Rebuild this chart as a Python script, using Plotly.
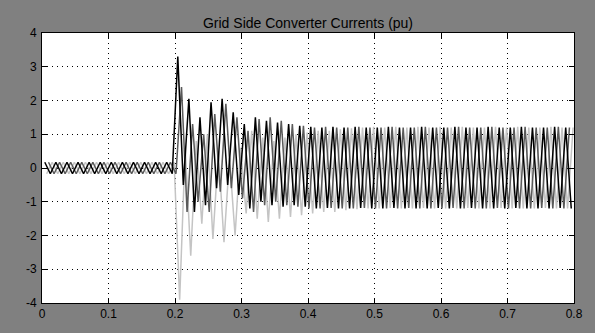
import plotly.graph_objects as go

# Sampling of the extremes (half-cycle peaks) of each phase current, 60 Hz system
half_period = 1.0 / 120.0
start_a = 0.0070   # phase a (light gray)
start_b = 0.0042   # phase b (black)
start_c = 0.0098   # phase c (dark gray)

# Successive half-cycle extremes (pu)
phase_a = [
    -0.17, 0.17, -0.17, 0.17, -0.17, 0.17, -0.17, 0.17, -0.17, 0.17, -0.17, 0.17,
    -0.17, 0.17, -0.17, 0.17, -0.17, 0.17, -0.17, 0.17, -0.17, 0.17, -0.17, 0.17,
    -3.9, 0.6, -2.6, 0.8, -1.65, 1.0, -2.1, 0.5, -2.2, 0.3, -2.0, 0.6,
    -1.35, 1.1, -1.5, 0.9, -1.6, 0.8, -1.5, 0.9, -1.45, 1.0, -1.4, 1.05,
    -1.35, 1.1, -1.3, 1.1, -1.3, 1.15, -1.25, 1.18, -1.22, 1.2, -1.2, 1.22,
    -1.2, 1.2, -1.18, 1.22, -1.2, 1.2, -1.2, 1.22, -1.18, 1.2, -1.2, 1.22,
    -1.2, 1.2, -1.2, 1.22, -1.18, 1.2, -1.2, 1.2, -1.2, 1.22, -1.18, 1.2,
    -1.2, 1.22, -1.2, 1.2, -1.2, 1.2, -1.18, 1.22, -1.2, 1.2, -1.2, 1.2,
]
phase_b = [
    0.17, -0.17, 0.17, -0.17, 0.17, -0.17, 0.17, -0.17, 0.17, -0.17, 0.17, -0.17,
    0.17, -0.17, 0.17, -0.17, 0.17, -0.17, 0.17, -0.17, 0.17, -0.17, 0.17, -0.17,
    3.3, -0.5, 2.05, -1.3, 1.5, -1.1, 1.95, -0.6, 2.05, -0.5, 1.65, -0.8,
    1.3, -1.2, 1.5, -1.0, 1.4, -1.1, 1.35, -1.15, 1.3, -1.1, 1.25, -1.15,
    1.22, -1.2, 1.2, -1.18, 1.22, -1.2, 1.2, -1.2, 1.22, -1.18, 1.2, -1.2,
    1.2, -1.2, 1.22, -1.18, 1.2, -1.2, 1.2, -1.2, 1.22, -1.2, 1.2, -1.18,
    1.2, -1.2, 1.22, -1.2, 1.2, -1.18, 1.2, -1.2, 1.22, -1.2, 1.2, -1.2,
    1.2, -1.18, 1.22, -1.2, 1.2, -1.2, 1.2, -1.2, 1.22, -1.18, 1.2, -1.2,
]
phase_c = [
    0.17, -0.17, 0.17, -0.17, 0.17, -0.17, 0.17, -0.17, 0.17, -0.17, 0.17, -0.17,
    0.17, -0.17, 0.17, -0.17, 0.17, -0.17, 0.17, -0.17, 0.17, -0.17, 0.17, -0.17,
    2.4, -1.3, 1.3, -1.0, 1.0, -1.3, 1.6, -0.7, 1.9, -0.6, 1.5, -0.9,
    1.1, -1.3, 1.45, -1.1, 1.5, -1.0, 1.4, -1.1, 1.3, -1.15, 1.25, -1.2,
    1.2, -1.2, 1.22, -1.18, 1.2, -1.2, 1.2, -1.2, 1.22, -1.18, 1.2, -1.2,
    1.2, -1.2, 1.22, -1.2, 1.2, -1.18, 1.2, -1.2, 1.22, -1.2, 1.2, -1.2,
    1.2, -1.18, 1.22, -1.2, 1.2, -1.2, 1.2, -1.2, 1.22, -1.18, 1.2, -1.2,
    1.2, -1.2, 1.22, -1.2, 1.2, -1.18, 1.2, -1.2, 1.22, -1.2, 1.2, -1.2,
]

x_ticks = [0, 0.1, 0.2, 0.3, 0.4, 0.5, 0.6, 0.7, 0.8]
x_labels = ["0", "0.1", "0.2", "0.3", "0.4", "0.5", "0.6", "0.7", "0.8"]
y_ticks = [-4, -3, -2, -1, 0, 1, 2, 3, 4]
y_labels = ["-4", "-3", "-2", "-1", "0", "1", "2", "3", "4"]
title_text = "Grid Side Converter Currents (pu)"


def times(start, n):
    return [start + k * half_period for k in range(n)]


fig = go.Figure()
for vals, start, color in [
    (phase_a, start_a, "#c4c4c4"),
    (phase_c, start_c, "#5a5a5a"),
    (phase_b, start_b, "#000000"),
]:
    t = times(start, len(vals))
    pts = [(ti, v) for ti, v in zip(t, vals) if ti <= 0.8]
    fig.add_trace(go.Scatter(
        x=[p[0] for p in pts], y=[p[1] for p in pts],
        mode="lines", line=dict(color=color, width=1.5),
        showlegend=False, hoverinfo="skip",
    ))

axis_common = dict(
    showline=True, linecolor="black", linewidth=1, mirror="ticks",
    ticks="inside", ticklen=5, tickcolor="black",
    showgrid=True, gridcolor="black", griddash="1px,4px", gridwidth=1,
    zeroline=False,
    tickfont=dict(family="Liberation Sans", size=12, color="black"),
)

fig.update_layout(
    width=595, height=333,
    margin=dict(l=42, r=19, t=33, b=30),
    paper_bgcolor="#808080",
    plot_bgcolor="white",
    title=dict(text=title_text, x=0.5, xref="paper", xanchor="center",
               y=1, yref="paper", yanchor="bottom", pad=dict(b=5),
               font=dict(family="Liberation Sans", size=14, color="black")),
    xaxis=dict(range=[0, 0.8], tickvals=x_ticks, ticktext=x_labels, **axis_common),
    yaxis=dict(range=[-4, 4], tickvals=y_ticks, ticktext=y_labels, ticklabelstandoff=2,
               **axis_common),
)

fig.write_html("out.html")
